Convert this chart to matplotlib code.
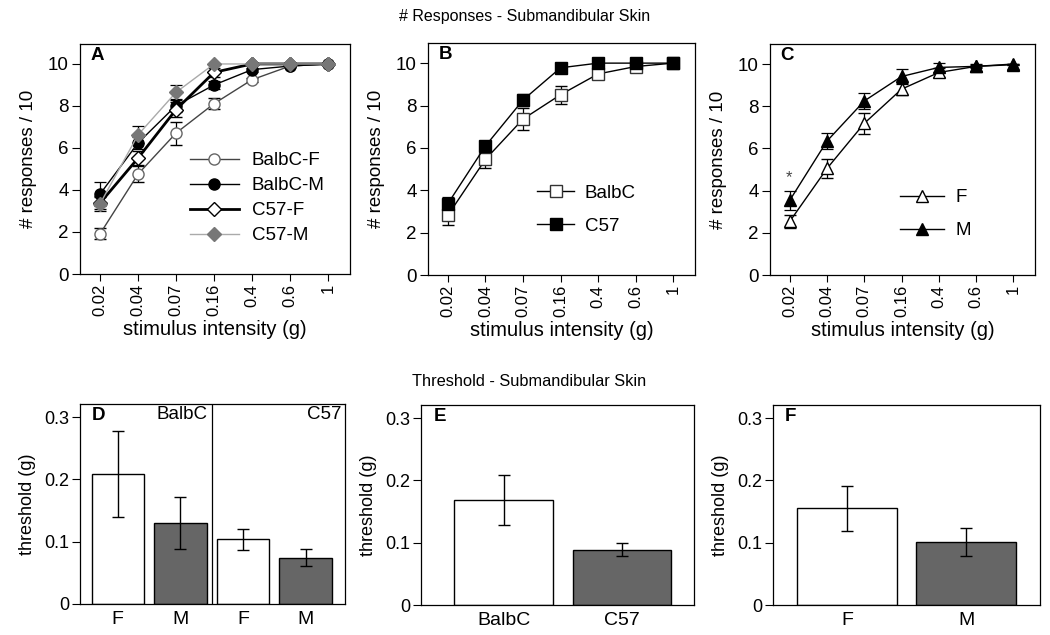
import matplotlib
matplotlib.use("Agg")
import matplotlib.pyplot as plt
from matplotlib.lines import Line2D
import numpy as np

plt.rcParams['font.family'] = ['Liberation Sans', 'DejaVu Sans']

# ---------------- data ----------------
intensity_labels = ["0.02", "0.04", "0.07", "0.16", "0.4", "0.6", "1"]

# Panel A
balbc_f = [1.92, 4.76, 6.71, 8.11, 9.25, 9.90, 10.0]
balbc_f_err = [0.25, 0.40, 0.55, 0.26, 0.10, 0.05, 0.0]
balbc_m = [3.81, 6.24, 8.02, 9.00, 9.73, 9.90, 10.0]
balbc_m_err = [0.55, 0.30, 0.30, 0.20, 0.10, 0.05, 0.0]
c57_f = [3.38, 5.52, 7.83, 9.60, 10.0, 10.0, 10.0]
c57_f_err = [0.30, 0.35, 0.35, 0.20, 0.0, 0.0, 0.0]
c57_m = [3.35, 6.63, 8.65, 10.0, 10.0, 10.0, 10.0]
c57_m_err = [0.35, 0.40, 0.37, 0.0, 0.0, 0.0, 0.0]

# Panel B
strain_balbc = [2.82, 5.46, 7.36, 8.51, 9.49, 9.84, 10.0]
strain_balbc_err = [0.45, 0.40, 0.50, 0.42, 0.20, 0.10, 0.0]
strain_c57 = [3.37, 6.09, 8.26, 9.78, 10.0, 10.0, 10.0]
strain_c57_err = [0.30, 0.20, 0.30, 0.10, 0.0, 0.0, 0.0]

# Panel C
sex_f = [2.54, 5.05, 7.19, 8.81, 9.60, 9.89, 10.0]
sex_f_err = [0.30, 0.45, 0.50, 0.30, 0.20, 0.10, 0.0]
sex_m = [3.54, 6.35, 8.25, 9.41, 9.84, 9.89, 9.97]
sex_m_err = [0.45, 0.40, 0.40, 0.35, 0.20, 0.05, 0.0]

# Panel D
d_labels = ["F", "M", "F", "M"]
d_vals = [0.208, 0.130, 0.104, 0.074]
d_err = [0.069, 0.042, 0.017, 0.0135]

# Panel E
e_labels = ["BalbC", "C57"]
e_vals = [0.168, 0.089]
e_err = [0.040, 0.011]

# Panel F
f_labels = ["F", "M"]
f_vals = [0.155, 0.1015]
f_err = [0.036, 0.0225]

W, H = 1050, 635
fig = plt.figure(figsize=(W / 100, H / 100), dpi=100)


def add_ax(x0, y0, x1, y1):
    return fig.add_axes([x0 / W, 1 - y1 / H, (x1 - x0) / W, (y1 - y0) / H])


YT_FS = 13.5     # horizontal y tick labels
XT_FS = 12       # rotated x tick labels
XLAB_FS = 14.5
YLAB_FS = 13.5
LEG_FS = 13.5
LET_FS = 13.5


def style_line_ax(ax, letter):
    x = np.arange(1, 8)
    ax.set_xlim(0.47, 7.58)
    ax.set_ylim(0, 10.95)
    ax.set_xticks(x)
    ax.set_xticklabels(intensity_labels, rotation=90, fontsize=XT_FS)
    ax.set_yticks([0, 2, 4, 6, 8, 10])
    ax.tick_params(axis='y', labelsize=YT_FS, length=6, width=0.8, pad=2)
    ax.tick_params(axis='x', length=5, width=0.8, pad=2)
    ax.set_xlabel("stimulus intensity (g)", fontsize=XLAB_FS, labelpad=3)
    ax.set_ylabel("# responses / 10", fontsize=YLAB_FS, labelpad=8)
    for s in ax.spines.values():
        s.set_linewidth(0.9)
    ax.text(0.04, 0.985, letter, transform=ax.transAxes, fontsize=LET_FS,
            fontweight='heavy', va='top', ha='left')


x = np.arange(1, 8)
EB = dict(capsize=4, elinewidth=0.9, capthick=0.9, ecolor='black')

# ---- Panel A ----
axA = add_ax(80, 44, 350, 274)
sA = [
    dict(color='#444444', lw=1.0, marker='o', ms=8, mfc='white', mec='#666666', mew=1.0),
    dict(color='black', lw=1.0, marker='o', ms=8, mfc='black', mec='black'),
    dict(color='black', lw=2.0, marker='D', ms=7, mfc='white', mec='black', mew=1.0),
    dict(color='#aaaaaa', lw=1.0, marker='D', ms=7, mfc='#777777', mec='#777777'),
]
namesA = ['BalbC-F', 'BalbC-M', 'C57-F', 'C57-M']
for yv, ye, st in zip([balbc_f, balbc_m, c57_f, c57_m],
                      [balbc_f_err, balbc_m_err, c57_f_err, c57_m_err], sA):
    axA.errorbar(x, yv, yerr=ye, **st, **EB)
style_line_ax(axA, 'A')
axA.legend([Line2D([], [], **st) for st in sA], namesA,
           loc='upper left', bbox_to_anchor=(0.407, 0.53), frameon=False, fontsize=LEG_FS,
           handlelength=2.6, handletextpad=0.7, labelspacing=0.42, borderpad=0,
           borderaxespad=0)

# ---- Panel B ----
axB = add_ax(428, 43, 695, 275)
sB = [
    dict(color='black', lw=1.0, marker='s', ms=8, mfc='white', mec='#333333', mew=1.0),
    dict(color='black', lw=1.0, marker='s', ms=8, mfc='black', mec='black'),
]
for yv, ye, st in zip([strain_balbc, strain_c57], [strain_balbc_err, strain_c57_err], sB):
    axB.errorbar(x, yv, yerr=ye, **st, **EB)
style_line_ax(axB, 'B')
axB.legend([Line2D([], [], **st) for st in sB], ['BalbC', 'C57'],
           loc='upper left', bbox_to_anchor=(0.408, 0.39), frameon=False, fontsize=LEG_FS,
           handlelength=2.0, handletextpad=0.55, labelspacing=0.85, borderpad=0,
           borderaxespad=0)

# ---- Panel C ----
axC = add_ax(770, 44, 1035, 275)
sC = [
    dict(color='black', lw=1.0, marker='^', ms=9, mfc='white', mec='black', mew=1.0),
    dict(color='black', lw=1.0, marker='^', ms=9, mfc='black', mec='black'),
]
for yv, ye, st in zip([sex_f, sex_m], [sex_f_err, sex_m_err], sC):
    axC.errorbar(x, yv, yerr=ye, **st, **EB)
style_line_ax(axC, 'C')
axC.text(0.97, 4.62, "*", ha='center', va='center', fontsize=12, color='#444444')
axC.legend([Line2D([], [], **st) for st in sC], ['F', 'M'],
           loc='upper left', bbox_to_anchor=(0.49, 0.372), frameon=False, fontsize=LEG_FS,
           handlelength=2.35, handletextpad=0.6, labelspacing=0.85, borderpad=0,
           borderaxespad=0)

fig.text(525 / W, 1 - 17 / H, "# Responses - Submandibular Skin", ha='center', va='center',
         fontsize=11.5)
fig.text(529 / W, 1 - 381 / H, "Threshold - Submandibular Skin", ha='center', va='center',
         fontsize=11.8)


def style_bar_ax(ax, letter, labels, xlim):
    ax.set_xlim(*xlim)
    ax.set_ylim(0, 0.321)
    ax.set_yticks([0, 0.1, 0.2, 0.3])
    ax.set_yticklabels(["0", "0.1", "0.2", "0.3"])
    ax.set_xticks(np.arange(1, len(labels) + 1))
    ax.set_xticklabels(labels, fontsize=14)
    ax.tick_params(axis='x', length=0, pad=5)
    ax.tick_params(axis='y', labelsize=13, length=6, width=0.8, pad=2)
    ax.set_ylabel("threshold (g)", fontsize=13, labelpad=6)
    for s in ax.spines.values():
        s.set_linewidth(0.9)
    ax.text(0.045, 0.985, letter, transform=ax.transAxes,
            fontsize=LET_FS, fontweight='heavy', va='top', ha='left')


BAR_W = 0.835
EBB = dict(capsize=4.5, elinewidth=1.0, capthick=1.0, ecolor='black', fmt='none')
bar_colors4 = ['white', '#666666', 'white', '#666666']
bar_colors2 = ['white', '#666666']

# ---- Panel D ----
axD = add_ax(80, 404, 345, 604)
xd = np.arange(1, 5)
axD.bar(xd, d_vals, width=BAR_W, color=bar_colors4, edgecolor='black', linewidth=1.0)
axD.errorbar(xd, d_vals, yerr=d_err, **EBB)
style_bar_ax(axD, 'D', d_labels, (0.396, 4.63))
axD.axvline(2.51, color='black', lw=0.9)
axD.text(2.44, 0.318, "BalbC", ha='right', va='top', fontsize=13.5)
axD.text(4.57, 0.318, "C57", ha='right', va='top', fontsize=13.5)

# ---- Panel E ----
axE = add_ax(421, 405, 694, 605)
xe = np.arange(1, 3)
axE.bar(xe, e_vals, width=BAR_W, color=bar_colors2, edgecolor='black', linewidth=1.0)
axE.errorbar(xe, e_vals, yerr=e_err, **EBB)
style_bar_ax(axE, 'E', e_labels, (0.30, 2.61))

# ---- Panel F ----
axF = add_ax(773, 405, 1040, 605)
axF.bar(xe, f_vals, width=BAR_W, color=bar_colors2, edgecolor='black', linewidth=1.0)
axF.errorbar(xe, f_vals, yerr=f_err, **EBB)
style_bar_ax(axF, 'F', f_labels, (0.379, 2.62))

fig.savefig("out.png", dpi=100)
